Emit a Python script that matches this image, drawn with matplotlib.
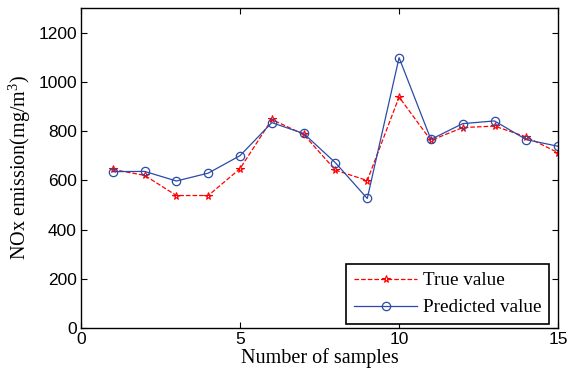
import numpy as np
from matplotlib import pyplot as plt

samples = [1, 2, 3, 4, 5, 6, 7, 8, 9, 10, 11, 12, 13, 14, 15]
true_value = [644, 620, 538, 538, 647, 847, 786, 641, 599, 938, 762, 814, 820, 776, 712]
predicted_value = [635, 636, 597, 629, 700, 834, 790, 671, 526, 1098, 766, 830, 841, 765, 738]

x_ticks = [0, 5, 10, 15]
y_ticks = [0, 200, 400, 600, 800, 1000, 1200]

plt.rcParams["mathtext.fontset"] = "custom"
plt.rcParams["mathtext.rm"] = "Liberation Serif"

fig = plt.figure(figsize=(5.68, 3.79), dpi=100)
ax = fig.add_axes([0.1426, 0.1346, 0.84, 0.8445])

ax.plot(samples, true_value, c="#ff0000", ls="--", lw=0.9, marker="*", ms=5.5,
        mfc="none", mec="#ff0000", mew=0.8, label="True value")
ax.plot(samples, predicted_value, c="#2b4ba8", ls="-", lw=0.9, marker="o", ms=6,
        mfc="none", mec="#2b4ba8", mew=0.9, label="Predicted value")

ax.set_xlim(0, 15)
ax.set_ylim(0, 1300)
ax.set_xticks(x_ticks)
ax.set_yticks(y_ticks)
ax.tick_params(direction="in", top=True, right=True, length=4, labelsize=12.5, pad=3)
for lab in ax.get_xticklabels() + ax.get_yticklabels():
    lab.set_family("Liberation Sans")
for s in ax.spines.values():
    s.set_linewidth(1.0)

ax.set_xlabel("Number of samples", family="Liberation Serif", fontsize=14.5, labelpad=1)
ax.set_ylabel("NOx emission(mg/m$^{\\mathrm{3}}$)", family="Liberation Serif", fontsize=14.5, labelpad=4)

leg = ax.legend(loc="lower right", bbox_to_anchor=(0.981, 0.0125),
                prop={"family": "Liberation Serif", "size": 13.8},
                fancybox=False, framealpha=1, edgecolor="black", handlelength=3.3,
                borderaxespad=0, handletextpad=0.3, borderpad=0.4, labelspacing=0.5)
leg.get_frame().set_linewidth(1.2)

fig.savefig("out.png")
